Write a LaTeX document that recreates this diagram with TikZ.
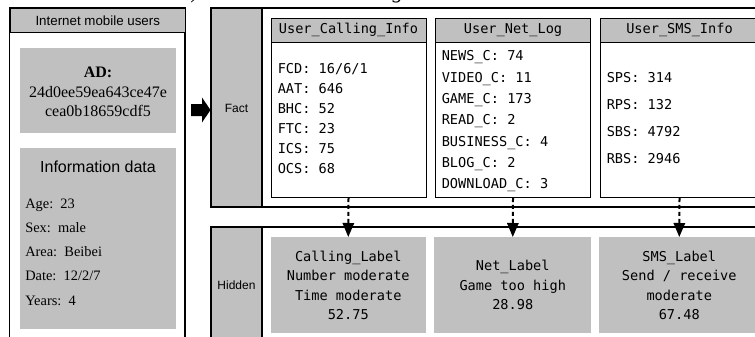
\documentclass[tikz,border=0pt]{standalone}
\usepackage{fontspec}
\setmainfont{Liberation Serif}
\newfontfamily\arialf{Liberation Sans}
\newfontfamily\monof{DejaVu Sans Mono}
\usetikzlibrary{arrows.meta}
\definecolor{boxgray}{HTML}{C0C0C0}
\begin{document}
\begin{tikzpicture}[x=0.75pt,y=-0.75pt,
  frameline/.style={draw=black, line width=0.8pt},
  grayfill/.style={fill=boxgray},
  infobox/.style={draw=black, line width=0.75pt, fill=white, inner sep=0pt, anchor=north west},
  hdrbox/.style={draw=black, line width=0.75pt, fill=boxgray, inner sep=0pt, anchor=north west,
    font=\monof\fontsize{10.2}{12}\selectfont},
  labelbox/.style={fill=boxgray, inner sep=0pt, anchor=north west, align=center,
    font=\monof\fontsize{10.2}{14.6}\selectfont},
  monotext/.style={inner sep=0pt, anchor=west, align=left},
  sidelabel/.style={inner sep=0pt, font=\arialf\fontsize{9}{11}\selectfont},
  dasharrow/.style={line width=1.5pt, dash pattern=on 3pt off 2.2pt,
    -{Triangle[width=8.5pt,length=10.5pt]}, shorten >=0pt}
]
\useasboundingbox (0,0) rectangle (755,336);
\clip (0,0) rectangle (755,336);

% caption fragments cut at the top
\node[inner sep=0pt, anchor=base, font=\fontsize{16}{18}\selectfont] (capa) at (194,-1.5) {)};
\node[inner sep=0pt, anchor=base, font=\fontsize{16}{18}\selectfont\itshape] (capb) at (398,-2) {g};

% ---------- left panel ----------
\draw[frameline] (9.5,345) -- (9.5,8) -- (185,8) -- (185,345);
\node[draw=black, line width=0.8pt, fill=boxgray, inner sep=0pt, anchor=north west,
  minimum width=175.5*0.75pt, minimum height=24*0.75pt,
  font=\arialf\fontsize{10}{12}\selectfont] (users) at (9.5,8) {Internet mobile users};

\node[fill=boxgray, inner sep=0pt, anchor=north west,
  minimum width=156*0.75pt, minimum height=85*0.75pt] (adbox) at (20,48) {};
\node[inner sep=0pt, align=center, font=\fontsize{12}{14.6}\selectfont] (adtext) at (98,92)
  {\textbf{AD:}\\24d0ee59ea643ce47e\\cea0b18659cdf5};

\node[fill=boxgray, inner sep=0pt, anchor=north west,
  minimum width=156*0.75pt, minimum height=181*0.75pt] (infobox) at (20,148) {};
\node[inner sep=0pt, font=\arialf\fontsize{12}{14}\selectfont] (infotitle) at (98,167) {Information data};
\node[inner sep=0pt, anchor=west, align=left, font=\fontsize{10.8}{18.2}\selectfont] (infolist) at (25,252)
  {Age:\enspace 23\\Sex:\enspace male\\Area:\enspace Beibei\\Date:\enspace 12/2/7\\Years:\enspace 4};

% big arrow
\fill[black] (191,104) -- (202,104) -- (202,97.5) -- (210.5,110) -- (202,122.5) -- (202,116) -- (191,116) -- cycle;

% ---------- Fact frame ----------
\fill[boxgray] (211,8) rectangle (262,207);
\draw[frameline] (211,8) rectangle (780,207);
\draw[frameline] (262,8) -- (262,207);
\node[sidelabel] (fact) at (236.5,108) {Fact};

% ---------- Hidden frame ----------
\fill[boxgray] (211,227) rectangle (262,350);
\draw[frameline] (211,350) -- (211,227) -- (780,227);
\draw[frameline] (262,227) -- (262,350);
\node[sidelabel] (hidden) at (236.5,285) {Hidden};

% ---------- info boxes ----------
\node[infobox, minimum width=155*0.75pt, minimum height=179.5*0.75pt] (calli) at (270.5,17.5) {};
\node[hdrbox, minimum width=155*0.75pt, minimum height=24*0.75pt] (callh) at (270.5,17.5) {User\_Calling\_Info};
\node[monotext, font=\monof\fontsize{10.2}{15}\selectfont] (callt) at (277.5,118.5)
  {FCD: 16/6/1\\AAT: 646\\BHC: 52\\FTC: 23\\ICS: 75\\OCS: 68};

\node[infobox, minimum width=155*0.75pt, minimum height=179.5*0.75pt] (neti) at (435,17.5) {};
\node[hdrbox, minimum width=155*0.75pt, minimum height=24*0.75pt] (neth) at (435,17.5) {User\_Net\_Log};
\node[monotext, font=\monof\fontsize{10.2}{16}\selectfont] (nett) at (441.5,121.5)
  {NEWS\_C: 74\\VIDEO\_C: 11\\GAME\_C: 173\\READ\_C: 2\\BUSINESS\_C: 4\\BLOG\_C: 2\\DOWNLOAD\_C: 3};

\node[infobox, minimum width=158*0.75pt, minimum height=179.5*0.75pt] (smsi) at (600,17.5) {};
\node[hdrbox, minimum width=158*0.75pt, minimum height=24*0.75pt] (smsh) at (600,17.5) {User\_SMS\_Info};
\node[monotext, font=\monof\fontsize{10.2}{20.2}\selectfont] (smst) at (606.5,118)
  {SPS: 314\\RPS: 132\\SBS: 4792\\RBS: 2946};

% ---------- label boxes ----------
\node[labelbox, minimum width=155*0.75pt, minimum height=96*0.75pt] (calll) at (270.5,237)
  {Calling\_Label\\Number moderate\\Time moderate\\52.75};
\node[labelbox, minimum width=157*0.75pt, minimum height=96*0.75pt] (netl) at (434,237)
  {Net\_Label\\Game too high\\28.98};
\node[labelbox, minimum width=160*0.75pt, minimum height=96*0.75pt] (smsl) at (599,237)
  {SMS\_Label\\Send / receive\\moderate\\67.48};

% ---------- connectors ----------
\draw[dasharrow] (calli.south) -- (calll.north);
\draw[dasharrow] (neti.south) -- (netl.north);
\draw[dasharrow] (smsi.south) -- (smsl.north);
\end{tikzpicture}
\end{document}
